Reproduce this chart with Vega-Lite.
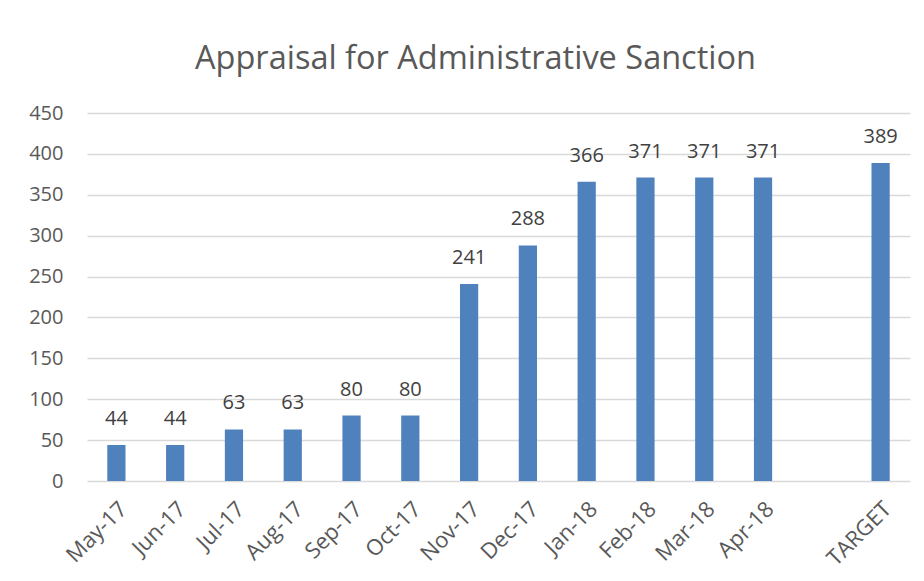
{
  "$schema": "https://vega.github.io/schema/vega-lite/v6.json",
  "autosize": {"type": "none"},
  "width": 823,
  "height": 368,
  "padding": {"left": 87, "top": 113, "right": 14, "bottom": 100},
  "background": "white",
  "title": {
    "text": "Appraisal for Administrative Sanction",
    "font": "Open Sans",
    "fontSize": 32.5,
    "fontWeight": "normal",
    "color": "#595959",
    "offset": 28,
    "dx": -23,
    "anchor": "middle"
  },
  "data": {
    "values": [
      {"month": "May-17", "value": 44},
      {"month": "Jun-17", "value": 44},
      {"month": "Jul-17", "value": 63},
      {"month": "Aug-17", "value": 63},
      {"month": "Sep-17", "value": 80},
      {"month": "Oct-17", "value": 80},
      {"month": "Nov-17", "value": 241},
      {"month": "Dec-17", "value": 288},
      {"month": "Jan-18", "value": 366},
      {"month": "Feb-18", "value": 371},
      {"month": "Mar-18", "value": 371},
      {"month": "Apr-18", "value": 371},
      {"month": "TARGET", "value": 389}
    ]
  },
  "encoding": {
    "x": {
      "field": "month",
      "type": "nominal",
      "sort": null,
      "scale": {
        "domain": ["May-17","Jun-17","Jul-17","Aug-17","Sep-17","Oct-17","Nov-17","Dec-17","Jan-18","Feb-18","Mar-18","Apr-18"," ","TARGET"],
        "paddingInner": 0.69,
        "paddingOuter": 0.345
      },
      "axis": {
        "title": null,
        "labelAngle": -45,
        "labelFont": "Open Sans",
        "labelFontSize": 22,
        "labelColor": "#595959",
        "ticks": false,
        "domain": false,
        "labelPadding": 17
      }
    },
    "y": {
      "field": "value",
      "type": "quantitative",
      "scale": {"domain": [0, 450]},
      "axis": {
        "title": null,
        "values": [0,50,100,150,200,250,300,350,400,450],
        "labelFont": "Open Sans",
        "labelFontSize": 20,
        "labelColor": "#595959",
        "ticks": false,
        "domain": false,
        "gridColor": "#d9d9d9",
        "gridWidth": 1.5,
        "labelPadding": 24
      }
    }
  },
  "layer": [
    {"mark": {"type": "bar", "color": "#4f81bd"}},
    {
      "mark": {"type": "text", "dy": -26, "font": "Open Sans", "fontSize": 20, "color": "#404040"},
      "encoding": {"text": {"field": "value", "type": "quantitative"}}
    }
  ],
  "config": {"view": {"stroke": null}}
}
